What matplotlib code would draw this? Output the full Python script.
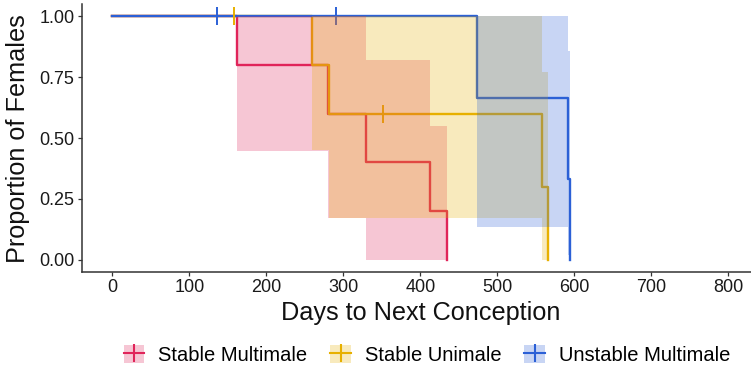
import matplotlib
matplotlib.use("Agg")
import matplotlib.pyplot as plt
from matplotlib.patches import Patch
from matplotlib.lines import Line2D
from matplotlib.legend_handler import HandlerTuple

plt.rcParams['font.family'] = ['Liberation Sans', 'DejaVu Sans']

groups = ["Stable Multimale", "Stable Unimale", "Unstable Multimale"]
colors = ["#E0245A", "#E7B000", "#2B60D6"]

# Kaplan-Meier steps (days, proportion)
sm_time = [0, 162, 280, 329.5, 413, 435]
sm_surv = [1.0, 0.8, 0.6, 0.4, 0.2, 0.0]
su_time = [0, 260, 281.5, 558, 566]
su_surv = [1.0, 0.8, 0.6, 0.3, 0.0]
um_time = [0, 473.5, 591.6, 594.6]
um_surv = [1.0, 0.667, 0.333, 0.0]

# confidence bands
sm_ci_time = [162, 280, 329.5, 413, 435]
sm_ci_upper = [1.0, 1.0, 0.82, 0.55, 0.55]
sm_ci_lower = [0.447, 0.17, 0.0, 0.0, 0.0]
su_ci_time = [260, 281.5, 558, 566]
su_ci_upper = [1.0, 1.0, 0.77, 0.77]
su_ci_lower = [0.45, 0.17, 0.0, 0.0]
um_ci_time = [473.5, 591.6, 594.6]
um_ci_upper = [1.0, 0.86, 0.86]
um_ci_lower = [0.134, 0.02, 0.02]

# censored observations
su_cens_time = [158, 351.6]
su_cens_surv = [1.0, 0.6]
um_cens_time = [136.6, 291]
um_cens_surv = [1.0, 1.0]

xticks = [0, 100, 200, 300, 400, 500, 600, 700, 800]
yticks = [0.0, 0.25, 0.5, 0.75, 1.0]
ytick_labels = ["0.00", "0.25", "0.50", "0.75", "1.00"]

W, H = 751, 371
fig = plt.figure(figsize=(W / 100, H / 100), dpi=100)
left, right, top, bottom = 81.5, 759, 4.3, 272
ax = fig.add_axes([left / W, 1 - bottom / H, (right - left) / W, (bottom - top) / H])

times = [sm_time, su_time, um_time]
survs = [sm_surv, su_surv, um_surv]
for t, s, c in zip(times, survs, colors):
    ax.step(t, s, where='post', color=c, lw=1.7, zorder=2)

ax.plot(su_cens_time, su_cens_surv, ls='none', marker='|', ms=13, mew=1.4,
        color=colors[1], zorder=2)
ax.plot(um_cens_time, um_cens_surv, ls='none', marker='|', ms=13, mew=1.4,
        color=colors[2], zorder=2)

# ribbons drawn on top of the lines
bands = [(sm_ci_time, sm_ci_lower, sm_ci_upper),
         (su_ci_time, su_ci_lower, su_ci_upper),
         (um_ci_time, um_ci_lower, um_ci_upper)]
for (t, lo, up), c in zip(bands, colors):
    ax.fill_between(t, lo, up, step='post', color=c, alpha=0.26, lw=0, zorder=3)

ax.set_xlim(-40, 840)
ax.set_ylim(-0.05, 1.05)
ax.set_xticks(xticks)
ax.set_yticks(yticks)
ax.set_yticklabels(ytick_labels)
ax.tick_params(labelsize=13, length=3, width=0.9, colors='#333333',
               labelcolor='#1a1a1a', pad=2)
for side in ['top', 'right']:
    ax.spines[side].set_visible(False)
for side in ['left', 'bottom']:
    ax.spines[side].set_linewidth(1.1)
    ax.spines[side].set_color('#333333')

ax.set_xlabel("Days to Next Conception", fontsize=18.2, color='#111111')
ax.xaxis.set_label_coords(0.5, (bottom - 313) / (bottom - top))
ax.xaxis.label.set_va('center')
ax.set_ylabel("Proportion of Females", fontsize=18.2, color='#111111')
ax.yaxis.set_label_coords((18 - left) / (right - left), 0.5)
ax.yaxis.label.set_va('center')

handles = []
for c in colors:
    handles.append((Patch(facecolor=c, alpha=0.26, lw=0),
                    Line2D([], [], color=c, lw=1.5, marker='|', ms=13, mew=1.5)))
fig.legend(handles, groups, handler_map={tuple: HandlerTuple(ndivide=1)},
           loc='center', bbox_to_anchor=(427 / W, 1 - 355 / H), ncol=3,
           frameon=False, fontsize=14.5, handlelength=1.0, handleheight=1.0,
           handletextpad=0.7, columnspacing=1.15, borderpad=0)

fig.savefig("out.png", dpi=100)
